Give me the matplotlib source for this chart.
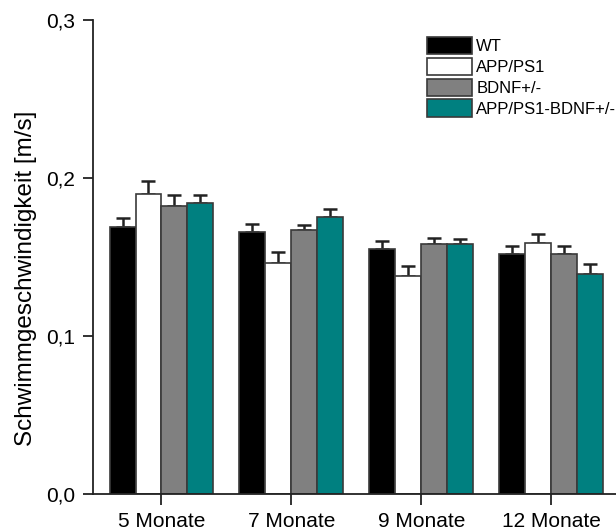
import numpy as np
import matplotlib
matplotlib.use('Agg')
import matplotlib.pyplot as plt

plt.rcParams['font.family'] = ['Liberation Sans', 'DejaVu Sans']

groups = ['5 Monate', '7 Monate', '9 Monate', '12 Monate']
series = ['WT', 'APP/PS1', 'BDNF+/-', 'APP/PS1-BDNF+/-']
colors = ['#000000', '#ffffff', '#808080', '#008080']

wt = [0.169, 0.166, 0.155, 0.152]
app = [0.190, 0.146, 0.138, 0.159]
bdnf = [0.182, 0.167, 0.158, 0.152]
app_bdnf = [0.184, 0.1755, 0.158, 0.139]

wt_err = [0.006, 0.005, 0.005, 0.005]
app_err = [0.008, 0.007, 0.006, 0.0057]
bdnf_err = [0.007, 0.0035, 0.004, 0.0047]
app_bdnf_err = [0.005, 0.0047, 0.0035, 0.0063]

values = [wt, app, bdnf, app_bdnf]
errors = [wt_err, app_err, bdnf_err, app_bdnf_err]

fig = plt.figure(figsize=(6.16, 5.31), dpi=100)
ax = fig.add_axes([93 / 616, 37 / 531, 523 / 616, 474 / 531])

x = np.arange(len(groups))
width = 0.2
for i in range(4):
    pos = x + (i - 1.5) * width
    ax.bar(pos, values[i], width, color=colors[i], edgecolor='#3a3a3a',
           linewidth=1.2, label=series[i], zorder=2)
    ax.errorbar(pos, values[i], yerr=[np.zeros(4), errors[i]], fmt='none',
                ecolor='#222222', elinewidth=1.8, capsize=5, capthick=1.8, zorder=1)

ax.set_xlim(-0.527, 3.497)
ax.set_ylim(0, 0.3)
ax.set_yticks([0, 0.1, 0.2, 0.3])
ax.set_yticklabels(['0,0', '0,1', '0,2', '0,3'])
ax.set_xticks(x)
ax.set_xticklabels(groups)
ax.tick_params(labelsize=15, width=1.3, length=7, color='#222222', pad=6)
ax.tick_params(axis='x', length=8, pad=5)

for s in ['top', 'right']:
    ax.spines[s].set_visible(False)
for s in ['left', 'bottom']:
    ax.spines[s].set_linewidth(1.3)
    ax.spines[s].set_color('#222222')

ax.set_ylabel('Schwimmgeschwindigkeit [m/s]', fontsize=17.5)
ax.yaxis.set_label_coords(-0.108, 0.454)

ax.legend(loc='upper left', bbox_to_anchor=(0.639, 0.965), fontsize=12, frameon=False,
          handlelength=2.7, handleheight=1.25, handletextpad=0.25, labelspacing=0.2,
          borderaxespad=0, borderpad=0)

fig.savefig('out.png', dpi=100)
